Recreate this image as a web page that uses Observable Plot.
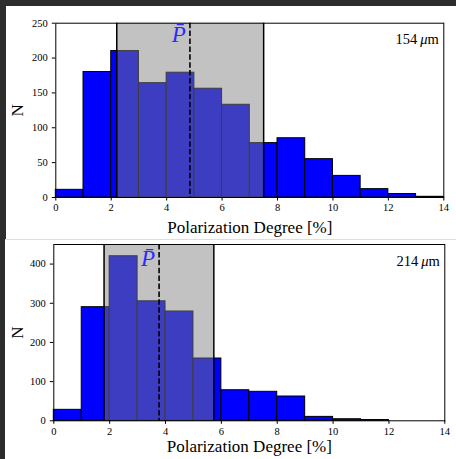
<!DOCTYPE html>
<html>
<head>
<meta charset="utf-8">
<script src="https://cdn.jsdelivr.net/npm/d3@7"></script>
<script src="https://cdn.jsdelivr.net/npm/@observablehq/plot@0.6"></script>
<style>
  html, body { margin: 0; padding: 0; }
  body { width: 456px; height: 459px; background: #2d2d2d; position: relative; overflow: hidden; }
  .panel { position: absolute; background: white; }
  #top { left: 6px; top: 6px; width: 450px; height: 233px; }
  #bottom { left: 5px; top: 239px; width: 451px; height: 220px; border-top: 1px solid #dedede; box-sizing: border-box; }
  svg text { font-family: "Liberation Serif", serif; }
</style>
</head>
<body>
<div id="top" class="panel"></div>
<div id="bottom" class="panel"></div>
<script>
// Histogram bins of polarization degree [%], width 1
const binLeft = [0, 1, 2, 3, 4, 5, 6, 7, 8, 9, 10, 11, 12, 13];
const counts154 = [11, 180, 210, 164, 179, 156, 133, 78, 85, 55, 31, 12, 5, 1];
const counts214 = [28, 290, 420, 305, 279, 159, 78, 74, 62, 10, 4, 2, 0, 0];

// Shaded interval and mean polarization for each band
const span154 = [2.2, 7.5];
const mean154 = 4.84;
const span214 = [1.8, 5.73];
const mean214 = 3.77;

const xTicks = [0, 2, 4, 6, 8, 10, 12, 14];
const yTicks154 = [0, 50, 100, 150, 200, 250];
const yTicks214 = [0, 100, 200, 300, 400];

const serif = "Liberation Serif";

function histogram({counts, span, mean, yMax, yTicks, band, width, height, margins, nDx, xLabelDy, pLabelY}) {
  const rows = binLeft.map((lo, i) => ({lo, hi: lo + 1, n: counts[i]}));
  const plot = Plot.plot({
    width, height,
    marginLeft: margins[0], marginRight: margins[1], marginTop: margins[2], marginBottom: margins[3],
    style: {fontFamily: serif, fontSize: "10.5px", background: "transparent", color: "black"},
    x: {domain: [0, 14]},
    y: {domain: [0, yMax]},
    marks: [
      Plot.rectY(rows, {x1: "lo", x2: "hi", y: "n", fill: "#0000ff", stroke: "black", strokeWidth: 1}),
      Plot.rect([span], {x1: d => d[0], x2: d => d[1], y1: 0, y2: yMax, fill: "#808080", fillOpacity: 0.48}),
      Plot.ruleX(span, {stroke: "black", strokeWidth: 1.5}),
      Plot.ruleX([mean], {stroke: "black", strokeWidth: 1.6, strokeDasharray: "5.5,2.4"}),
      Plot.frame({stroke: "black", strokeWidth: 1}),
      Plot.axisX({ticks: xTicks, tickSize: 3.5, tickPadding: 3, label: null}),
      Plot.axisY({ticks: yTicks, tickSize: 3.5, tickPadding: 4.5, label: null}),
      Plot.text([mean], {x: d => d, y: pLabelY, text: () => "P\u0304", textAnchor: "end", lineAnchor: "bottom",
        dx: -4, fill: "#2b2bff", fontStyle: "italic", fontSize: 23}),
      Plot.text([band], {frameAnchor: "top-right", text: d => d, textAnchor: "end", lineAnchor: "top",
        dx: -5, dy: 11, fontSize: 14.5, fill: "black"}),
      Plot.text(["Polarization Degree [%]"], {frameAnchor: "bottom", text: d => d, lineAnchor: "middle",
        dy: xLabelDy, fontSize: 17, fill: "black"}),
      Plot.text(["N"], {frameAnchor: "left", text: d => d, rotate: -90, lineAnchor: "middle", textAnchor: "middle",
        dx: nDx, fontSize: 17, fill: "black"})
    ]
  });
  // Set the micro sign in italic, as in math mode
  d3.select(plot).selectAll("text").each(function () {
    if (this.textContent === band) {
      const [num] = band.split(" ");
      d3.select(this).text(null);
      d3.select(this).append("tspan").text(num + "\u2009");
      d3.select(this).append("tspan").attr("font-style", "italic").text("\u03bc");
      d3.select(this).append("tspan").text("m");
    }
  });
  return plot;
}

document.getElementById("top").append(histogram({
  counts: counts154, span: span154, mean: mean154, yMax: 250, yTicks: yTicks154, band: "154 \u03bcm",
  width: 450, height: 233, margins: [49.3, 12.7, 16.7, 42], nDx: -37.8, xLabelDy: 30, pLabelY: 223
}));

document.getElementById("bottom").append(histogram({
  counts: counts214, span: span214, mean: mean214, yMax: 450, yTicks: yTicks214, band: "214 \u03bcm",
  width: 451, height: 219, margins: [48.3, 11.7, 4, 38.7], nDx: -36.6, xLabelDy: 26, pLabelY: 394
}));
</script>
</body>
</html>
